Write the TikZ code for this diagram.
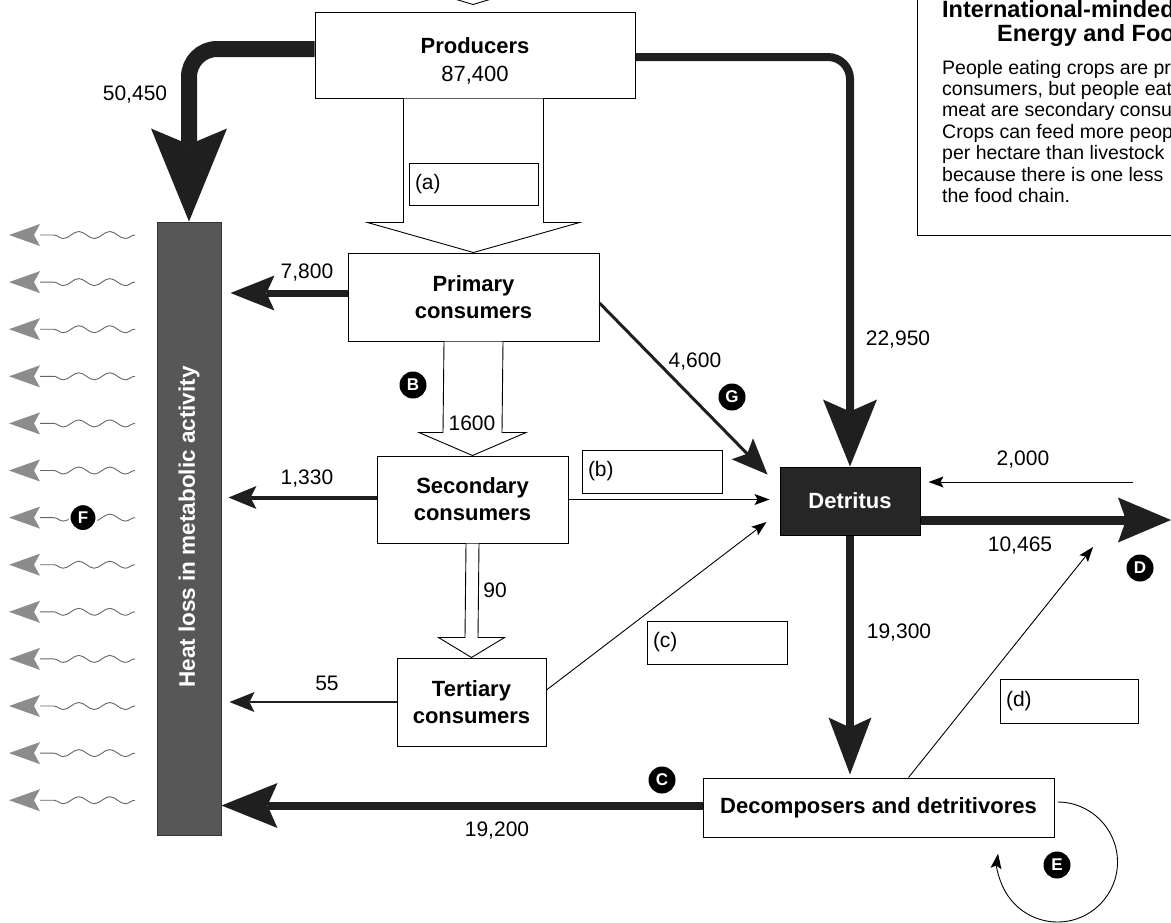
\documentclass[tikz,border=0pt]{standalone}
\usepackage{fontspec}
\setmainfont{Liberation Sans}
\usetikzlibrary{arrows.meta,calc,decorations.pathmorphing}
\newcommand\myfs[2]{\fontsize{#1}{#2}\selectfont}
\begin{document}
\begin{tikzpicture}[x=1pt,y=-1pt,
  box/.style={draw=black, line width=1pt, fill=white, inner sep=0pt, align=center, font=\myfs{22}{27}\bfseries},
  lbox/.style={draw=black, line width=1pt, fill=white, inner xsep=6pt, inner ysep=0pt, align=left, font=\myfs{21}{25}},
  lab/.style={font=\myfs{21}{25}, inner sep=0pt},
  dotc/.style={circle, fill=black, text=white, font=\myfs{17}{17}\bfseries, inner sep=0pt, minimum size=27pt},
  harr/.style n args={4}{line width=#1, draw=black!88, -{Stealth[length=#2,width=#3,inset=#4,line width=0pt]}},
  thinarr/.style={line width=0.9pt, draw=black, -{Stealth[length=15pt,width=11pt,inset=3pt,line width=0pt]}},
  hollow/.style={draw=black, line width=0.9pt, fill=white, line join=miter},
  wave/.style={draw=black!60, line width=0.9pt, decorate, decoration={snake, segment length=31pt, amplitude=3.5pt}},
  wtip/.style={fill=black!45},
  txt/.style={anchor=base west, inner sep=0pt, font=\myfs{19.5}{21.4}}
]
\useasboundingbox (0,0) rectangle (1171,922);
\fill[white] (0,0) rectangle (1171,922);
\clip (0,0) rectangle (1171,922);

% ---------- main boxes ----------
\node[box, minimum width=320pt, minimum height=86pt] (prod) at (475,55) {};
\node[align=center, inner sep=0pt, font=\myfs{22}{28}] (prodtxt) at (475,61) {\textbf{Producers}\\87,400};
\node[box, minimum width=251pt, minimum height=88pt] (prim) at (473.5,297) {Primary\\consumers};
\node[box, minimum width=191pt, minimum height=87pt] (sec) at (472.5,499.5) {Secondary\\consumers};
\node[box, minimum width=149pt, minimum height=88pt] (ter) at (471.5,702) {Tertiary\\consumers};
\node[box, minimum width=140pt, minimum height=68pt, fill=black!85, draw=black, text=white] (det) at (850,501) {Detritus};
\node[box, minimum width=351pt, minimum height=59pt] (dec) at (878.5,807.5) {Decomposers and detritivores};
\node[draw=black!80, fill=black!66, line width=1pt, minimum width=64pt, minimum height=613pt, inner sep=0pt] (heat) at (189,528.5) {};
\node[rotate=90, text=white, inner sep=0pt, font=\myfs{22.5}{26}\bfseries] (heattxt) at (189,527) {Heat loss in metabolic activity};

% ---------- sunlight chevron above producers ----------
\coordinate (sun) at ($(prod.north)+(-2,-7)$);
\draw[line width=0.9pt] ($(sun)+(-20,-6)$) -- (sun) -- ($(sun)+(20,-6)$);

% ---------- hollow transfer arrows ----------
\draw[hollow] ($(prod.south -| prim.north)+(-70,0)$) -- ($(prim.north)+(-70,-30)$) -- ($(prim.north)+(-106,-30)$)
  -- (prim.north) -- ($(prim.north)+(106,-30)$) -- ($(prim.north)+(70,-30)$) -- ($(prod.south -| prim.north)+(70,0)$);
\draw[hollow] ($(prim.south)+(-29.5,0)$) -- ($(sec.north)+(-29.5,-23)$) -- ($(sec.north)+(-53.5,-23)$)
  -- (sec.north) -- ($(sec.north)+(53.5,-23)$) -- ($(sec.north)+(29.5,-23)$) -- ($(prim.south)+(29.5,0)$);
\draw[hollow] ($(sec.south)+(-6.5,0)$) -- ($(ter.north)+(-6.5,-20)$) -- ($(ter.north)+(-33,-20)$)
  -- (ter.north) -- ($(ter.north)+(33,-20)$) -- ($(ter.north)+(6.5,-20)$) -- ($(sec.south)+(6.5,0)$);

% ---------- label boxes ----------
\node[lbox, text width=117pt, minimum height=42pt] (ba) at (473.5,184) {(a)};
\node[lbox, text width=128pt, minimum height=43pt] (bb) at (652,471.5) {(b)};
\node[lbox, text width=128pt, minimum height=43pt] (bc) at (717,642.5) {(c)};
\node[lbox, text width=126pt, minimum height=44pt] (bd) at (1069,701) {(d)};

% ---------- thick flows ----------
\draw[harr={16pt}{93pt}{76pt}{16pt}, rounded corners=28pt] ([yshift=6pt]prod.west) -| (heat.north);
\draw[harr={8pt}{67pt}{54pt}{12pt}, rounded corners=22pt] ([yshift=-2pt]prod.east) -| (det.north);
\draw[harr={7pt}{44pt}{35pt}{8pt}] ([yshift=4pt]prim.west) -- ([yshift=4pt,xshift=9pt]prim.west -| heat.east);
\draw[harr={4pt}{28pt}{23pt}{6pt}] ([yshift=2pt]sec.west) -- ([yshift=2pt,xshift=7pt]sec.west -| heat.east);
\draw[harr={2.2pt}{25pt}{20pt}{5pt}] (ter.west) -- ([xshift=8pt]ter.west -| heat.east);
\draw[harr={8pt}{56pt}{45pt}{10pt}] ([yshift=2pt]dec.west) -- ([yshift=2pt]dec.west -| heat.east);
\draw[harr={3pt}{36pt}{30pt}{7pt}] ([yshift=-6pt]prim.east) -- ($(det.north west)+(-12,8)$);
\draw[harr={8pt}{57pt}{43pt}{10pt}] (det.south) -- ([yshift=3pt]det.south |- dec.north);
\coordinate (dout) at (1171,520);
\draw[harr={9pt}{53pt}{45pt}{8pt}] ([yshift=-19pt]det.east) -- (dout);

% ---------- thin flows ----------
\draw[thinarr] (sec.east) -- ([xshift=-10pt]sec.east -| det.west);
\draw[thinarr] ([yshift=12pt]ter.east) -- ($(det.west)+(-13,21)$);
\coordinate (src2000) at (1133,482);
\draw[thinarr] (src2000) -- ([xshift=8pt]src2000 -| det.east);
\coordinate (dend) at (1093,547);
\draw[thinarr] ($(dec.north)+(30,0)$) -- (dend);
\coordinate (loopstart) at ($(dec.east)+(3,-5.5)$);
\draw[thinarr] (loopstart) arc[start angle=-90, end angle=188, radius=60];

% ---------- numbers ----------
\node[lab] (n50450) at (135,94.5) {50,450};
\node[lab] (n22950) at (898,340) {22,950};
\node[lab] (n7800) at (307,273) {7,800};
\node[lab] (n1330) at (307,479) {1,330};
\node[lab] (n55) at (327,683) {55};
\node[lab] (n19200) at (497,830) {19,200};
\node[lab] (n4600) at (695,362) {4,600};
\node[lab] (n1600) at (472,423) {1600};
\node[lab] (n90) at (495,590) {90};
\node[lab] (n2000) at (1023,460) {2,000};
\node[lab] (n10465) at (1020,546) {10,465};
\node[lab] (n19300) at (899,633) {19,300};

% ---------- heat waves ----------
\foreach \i in {0,...,12}{
  \coordinate (w\i) at (135,{235+47.1*\i});
  \draw[wave] (w\i) -- ++(-95,0);
  \fill[wtip] ($(w\i)+(-126,0)$) -- ++(31,-11) -- ++(-6,11) -- ++(6,11) -- cycle;
}

% ---------- letter markers ----------
\node[dotc] (cB) at (413,385) {B};
\node[dotc] (cG) at (732,397) {G};
\node[dotc, draw=white, line width=2pt] (cF) at (83,517.6) {F};
\node[dotc] (cD) at (1140,568) {D};
\node[dotc] (cC) at (662,780) {C};
\node[dotc] (cE) at (1057,865) {E};

% ---------- info box ----------
\node[draw=black, line width=1pt, fill=white, minimum width=283pt, minimum height=245pt, inner sep=0pt] (info) at (1058.5,112.5) {};
\node[anchor=base west, inner sep=0pt, font=\myfs{23.5}{28}\bfseries] (t1) at (942,17) {International-minded};
\node[anchor=base west, inner sep=0pt, font=\myfs{23.5}{28}\bfseries] (t2) at (997,41) {Energy and Food};
\node[txt] (l1) at (942,74) {People eating crops are primary};
\node[txt] (l2) at (942,95.4) {consumers, but people eating};
\node[txt] (l3) at (942,116.8) {meat are secondary consumers.};
\node[txt] (l4) at (942,138.2) {Crops can feed more people};
\node[txt] (l5) at (942,159.6) {per hectare than livestock};
\node[txt] (l6) at (942,181) {because there is one less};
\node[txt] (l7) at (942,202.4) {the food chain.};
\end{tikzpicture}
\end{document}
